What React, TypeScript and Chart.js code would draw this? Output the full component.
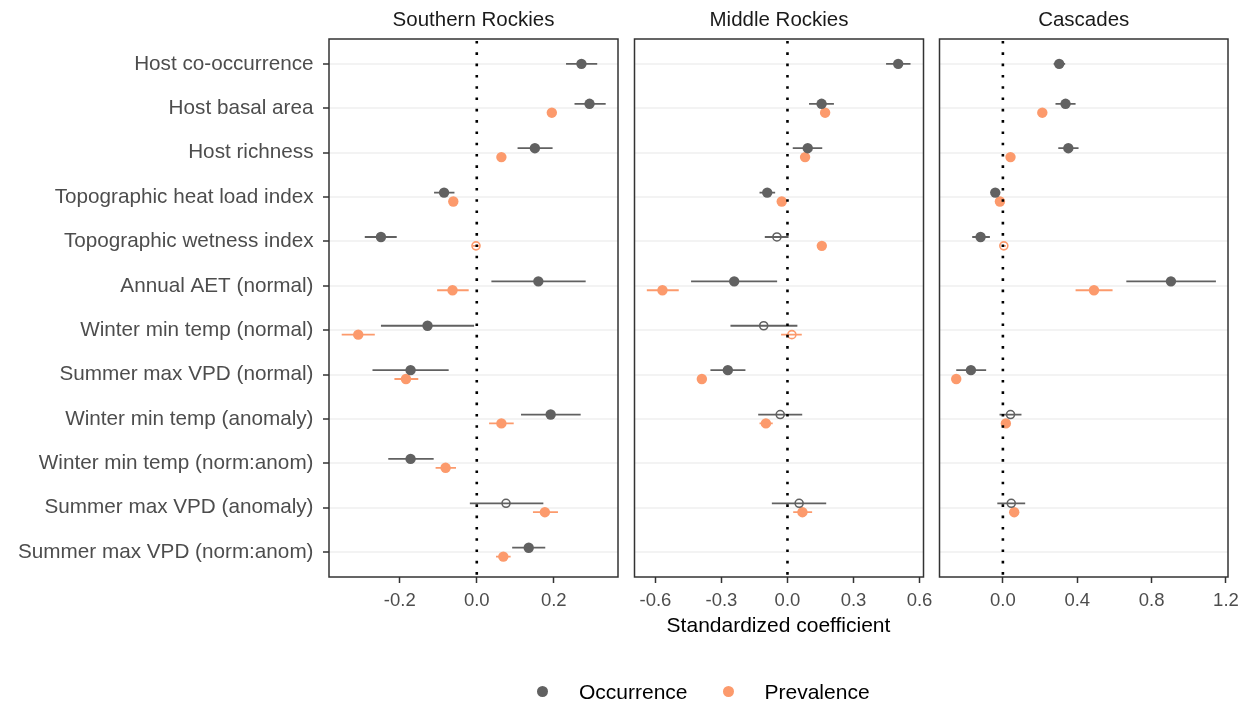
import React, { useEffect, useRef } from "react";
import { Chart, registerables } from "chart.js";

Chart.register(...registerables);

// ---------- data ----------
const categories = [
  "Host co-occurrence",
  "Host basal area",
  "Host richness",
  "Topographic heat load index",
  "Topographic wetness index",
  "Annual AET (normal)",
  "Winter min temp (normal)",
  "Summer max VPD (normal)",
  "Winter min temp (anomaly)",
  "Winter min temp (norm:anom)",
  "Summer max VPD (anomaly)",
  "Summer max VPD (norm:anom)",
];

const panelTitles = ["Southern Rockies", "Middle Rockies", "Cascades"];
const seriesNames = ["Occurrence", "Prevalence"];

// Southern Rockies
const srOccEst = [0.272, 0.293, 0.151, -0.085, -0.249, 0.16, -0.128, -0.172, 0.192, -0.172, 0.076, 0.135];
const srOccLo = [0.232, 0.254, 0.106, -0.111, -0.291, 0.038, -0.249, -0.271, 0.115, -0.23, -0.018, 0.092];
const srOccHi = [0.313, 0.335, 0.197, -0.058, -0.208, 0.283, -0.007, -0.073, 0.27, -0.112, 0.173, 0.178];
const srOccSig = [1, 1, 1, 1, 1, 1, 1, 1, 1, 1, 0, 1];

const srPrevEst = [null, 0.195, 0.064, -0.061, -0.002, -0.063, -0.308, -0.184, 0.064, -0.081, 0.177, 0.069];
const srPrevLo = [null, 0.187, 0.056, -0.069, -0.01, -0.103, -0.351, -0.214, 0.032, -0.107, 0.146, 0.05];
const srPrevHi = [null, 0.203, 0.072, -0.053, 0.006, -0.021, -0.265, -0.152, 0.096, -0.054, 0.211, 0.088];
const srPrevSig = [1, 1, 1, 1, 0, 1, 1, 1, 1, 1, 1, 1];

// Middle Rockies
const mrOccEst = [0.503, 0.155, 0.092, -0.092, -0.048, -0.242, -0.108, -0.271, -0.033, null, 0.053, null];
const mrOccLo = [0.448, 0.098, 0.024, -0.127, -0.103, -0.438, -0.259, -0.35, -0.133, null, -0.071, null];
const mrOccHi = [0.559, 0.211, 0.158, -0.056, 0.005, -0.047, 0.045, -0.191, 0.067, null, 0.176, null];
const mrOccSig = [1, 1, 1, 1, 0, 1, 0, 1, 0, 1, 0, 1];

const mrPrevEst = [null, 0.171, 0.08, -0.026, 0.156, -0.568, 0.02, -0.389, -0.098, null, 0.068, null];
const mrPrevLo = [null, 0.16, 0.069, -0.037, 0.145, -0.639, -0.029, -0.4, -0.127, null, 0.026, null];
const mrPrevHi = [null, 0.182, 0.091, -0.015, 0.167, -0.494, 0.065, -0.378, -0.067, null, 0.112, null];
const mrPrevSig = [1, 1, 1, 1, 1, 1, 0, 1, 1, 1, 1, 1];

// Cascades
const caOccEst = [0.303, 0.337, 0.352, -0.041, -0.12, 0.904, null, -0.172, 0.041, null, 0.045, null];
const caOccLo = [0.273, 0.283, 0.298, -0.055, -0.165, 0.664, null, -0.251, -0.018, null, -0.03, null];
const caOccHi = [0.335, 0.391, 0.407, -0.027, -0.07, 1.146, null, -0.09, 0.1, null, 0.12, null];
const caOccSig = [1, 1, 1, 1, 1, 1, 1, 1, 0, 1, 0, 1];

const caPrevEst = [null, 0.212, 0.041, -0.016, 0.005, 0.49, null, -0.251, 0.016, null, 0.061, null];
const caPrevLo = [null, 0.2, 0.03, -0.027, -0.006, 0.391, null, -0.262, 0.005, null, 0.05, null];
const caPrevHi = [null, 0.224, 0.052, -0.005, 0.016, 0.59, null, -0.24, 0.027, null, 0.072, null];
const caPrevSig = [1, 1, 1, 1, 0, 1, 1, 1, 1, 1, 1, 1];

// axis ticks and limits per panel
const srTicks = [-0.2, 0, 0.2];
const mrTicks = [-0.6, -0.3, 0, 0.3, 0.6];
const caTicks = [0, 0.4, 0.8, 1.2];
const srLimits = [-0.384, 0.367];
const mrLimits = [-0.695, 0.618];
const caLimits = [-0.341, 1.211];

const xTitle = "Standardized coefficient";

// ---------- styling ----------
const GREY = "#616161";
const ORANGE = "#FC9A6C";
const FONT = "'Liberation Sans', Arial, Helvetica, sans-serif";
const W = 1249;
const H = 704;
const PLOT_TOP = 39;
const PLOT_BOTTOM = 577;
const X_AXIS_H = 50;
const Y_LABEL_W = 329;
const DODGE = 0.1;
const Y_MIN = -0.56;
const Y_MAX = categories.length - 1 + 0.56;

const panelEdges = [
  [329, 618],
  [634.5, 923.5],
  [939.5, 1228],
];

type Series = { est: (number | null)[]; lo: (number | null)[]; hi: (number | null)[]; sig: number[] };

const panels = [
  {
    occ: { est: srOccEst, lo: srOccLo, hi: srOccHi, sig: srOccSig },
    prev: { est: srPrevEst, lo: srPrevLo, hi: srPrevHi, sig: srPrevSig },
    ticks: srTicks,
    limits: srLimits,
  },
  {
    occ: { est: mrOccEst, lo: mrOccLo, hi: mrOccHi, sig: mrOccSig },
    prev: { est: mrPrevEst, lo: mrPrevLo, hi: mrPrevHi, sig: mrPrevSig },
    ticks: mrTicks,
    limits: mrLimits,
  },
  {
    occ: { est: caOccEst, lo: caOccLo, hi: caOccHi, sig: caOccSig },
    prev: { est: caPrevEst, lo: caPrevLo, hi: caPrevHi, sig: caPrevSig },
    ticks: caTicks,
    limits: caLimits,
  },
];

function buildDatasets(occ: Series, prev: Series) {
  const list = [
    { s: occ, other: prev, color: GREY, sign: -1, label: seriesNames[0] },
    { s: prev, other: occ, color: ORANGE, sign: 1, label: seriesNames[1] },
  ];
  const ds: any[] = [];
  for (const item of list) {
    const pts: any[] = [];
    const bars: any[] = [];
    const radius: number[] = [];
    const bg: string[] = [];
    const bw: number[] = [];
    item.s.est.forEach((v, i) => {
      if (v == null) return;
      const y = i + (item.other.est[i] != null ? item.sign * DODGE : 0);
      pts.push({ x: v, y });
      bars.push({ x: item.s.lo[i], y }, { x: item.s.hi[i], y }, { x: null, y: null });
      const filled = item.s.sig[i] === 1;
      radius.push(filled ? 5.2 : 4);
      bg.push(filled ? item.color : "rgba(0,0,0,0)");
      bw.push(filled ? 0 : 1.6);
    });
    ds.push({
      type: "scatter",
      label: item.label + " CI",
      data: bars,
      showLine: true,
      spanGaps: false,
      borderColor: item.color,
      borderWidth: 1.8,
      pointRadius: 0,
      order: 3,
    });
    ds.push({
      type: "scatter",
      label: item.label,
      data: pts,
      showLine: false,
      pointRadius: radius,
      pointBackgroundColor: bg,
      pointBorderColor: item.color,
      pointBorderWidth: bw,
      order: 1,
    });
  }
  ds.push({
    type: "scatter",
    label: "zero",
    data: [
      { x: 0, y: Y_MIN },
      { x: 0, y: Y_MAX },
    ],
    showLine: true,
    borderColor: "#000000",
    borderWidth: 2.6,
    borderDash: [2.6, 8.7],
    borderDashOffset: -2,
    pointRadius: 0,
    order: 0,
  });
  return ds;
}

const borderPlugin = {
  id: "panelBorder",
  afterDraw(chart: any) {
    const { ctx, chartArea } = chart;
    ctx.save();
    ctx.strokeStyle = "#333333";
    ctx.lineWidth = 1.5;
    ctx.strokeRect(chartArea.left, chartArea.top, chartArea.right - chartArea.left, chartArea.bottom - chartArea.top);
    ctx.restore();
  },
};

function makeChart(canvas: HTMLCanvasElement, idx: number) {
  const p = panels[idx];
  const [left, right] = panelEdges[idx];
  const showY = idx === 0;
  const yW = showY ? Y_LABEL_W : 0;
  return new Chart(canvas, {
    type: "scatter",
    data: { datasets: buildDatasets(p.occ, p.prev) },
    plugins: [borderPlugin],
    options: {
      responsive: false,
      animation: false,
      devicePixelRatio: 1,
      events: [],
      layout: {
        padding: {
          left: left - yW,
          right: W - right,
          top: PLOT_TOP,
          bottom: H - PLOT_BOTTOM - X_AXIS_H,
        },
      },
      plugins: { legend: { display: false }, tooltip: { enabled: false }, title: { display: false } },
      scales: {
        x: {
          type: "linear",
          min: p.limits[0],
          max: p.limits[1],
          afterBuildTicks: (s: any) => {
            s.ticks = p.ticks.map((v) => ({ value: v }));
          },
          afterFit: (s: any) => {
            s.height = X_AXIS_H;
          },
          border: { display: false },
          grid: {
            drawOnChartArea: false,
            drawTicks: true,
            tickLength: 6,
            tickColor: "#333333",
            tickWidth: 1.5,
          },
          ticks: {
            autoSkip: false,
            maxRotation: 0,
            padding: 7,
            color: "#4D4D4D",
            font: { family: FONT, size: 18.5 },
            callback: (v: any) => Number(v).toFixed(1),
          },
        },
        y: {
          type: "linear",
          min: Y_MIN,
          max: Y_MAX,
          reverse: true,
          afterBuildTicks: (s: any) => {
            s.ticks = categories.map((_, i) => ({ value: i }));
          },
          afterFit: (s: any) => {
            s.width = yW;
          },
          border: { display: false },
          grid: {
            drawOnChartArea: true,
            color: "#F3F3F3",
            lineWidth: 2,
            drawTicks: showY,
            tickLength: 6,
            tickColor: "#333333",
            tickWidth: 1.5,
          },
          ticks: {
            display: showY,
            autoSkip: false,
            padding: 9.5,
            color: "#4D4D4D",
            font: { family: FONT, size: 20.7 },
            callback: (_v: any, i: number) => categories[i],
          },
        },
      },
    } as any,
  });
}

export default function App() {
  const r0 = useRef<HTMLCanvasElement>(null);
  const r1 = useRef<HTMLCanvasElement>(null);
  const r2 = useRef<HTMLCanvasElement>(null);

  useEffect(() => {
    const charts = [r0, r1, r2].map((r, i) => makeChart(r.current as HTMLCanvasElement, i));
    return () => charts.forEach((c) => c.destroy());
  }, []);

  const canvasStyle: React.CSSProperties = { position: "absolute", left: 0, top: 0 };
  const textBase: React.CSSProperties = {
    position: "absolute",
    fontFamily: FONT,
    lineHeight: "24px",
    whiteSpace: "nowrap",
  };

  return (
    <div style={{ position: "fixed", left: 0, top: 0, width: W, height: H, background: "#ffffff", overflow: "hidden" }}>
      <canvas ref={r0} width={W} height={H} style={canvasStyle} />
      <canvas ref={r1} width={W} height={H} style={canvasStyle} />
      <canvas ref={r2} width={W} height={H} style={canvasStyle} />
      {panelTitles.map((t, i) => (
        <div
          key={t}
          style={{
            ...textBase,
            left: panelEdges[i][0],
            width: panelEdges[i][1] - panelEdges[i][0],
            top: 6.5,
            textAlign: "center",
            fontSize: 20.5,
            color: "#1A1A1A",
          }}
        >
          {t}
        </div>
      ))}
      <div
        style={{
          ...textBase,
          left: panelEdges[0][0],
          width: panelEdges[2][1] - panelEdges[0][0],
          top: 613,
          textAlign: "center",
          fontSize: 21,
          color: "#000000",
        }}
      >
        {xTitle}
      </div>
      {seriesNames.map((name, i) => {
        const dotX = i === 0 ? 542.7 : 728.3;
        const textX = i === 0 ? 579 : 764.5;
        return (
          <React.Fragment key={name}>
            <div
              style={{
                position: "absolute",
                left: dotX - 5.5,
                top: 691.7 - 5.5,
                width: 11,
                height: 11,
                borderRadius: "50%",
                background: i === 0 ? GREY : ORANGE,
              }}
            />
            <div style={{ ...textBase, left: textX, top: 680, fontSize: 21, color: "#000000" }}>{name}</div>
          </React.Fragment>
        );
      })}
    </div>
  );
}
